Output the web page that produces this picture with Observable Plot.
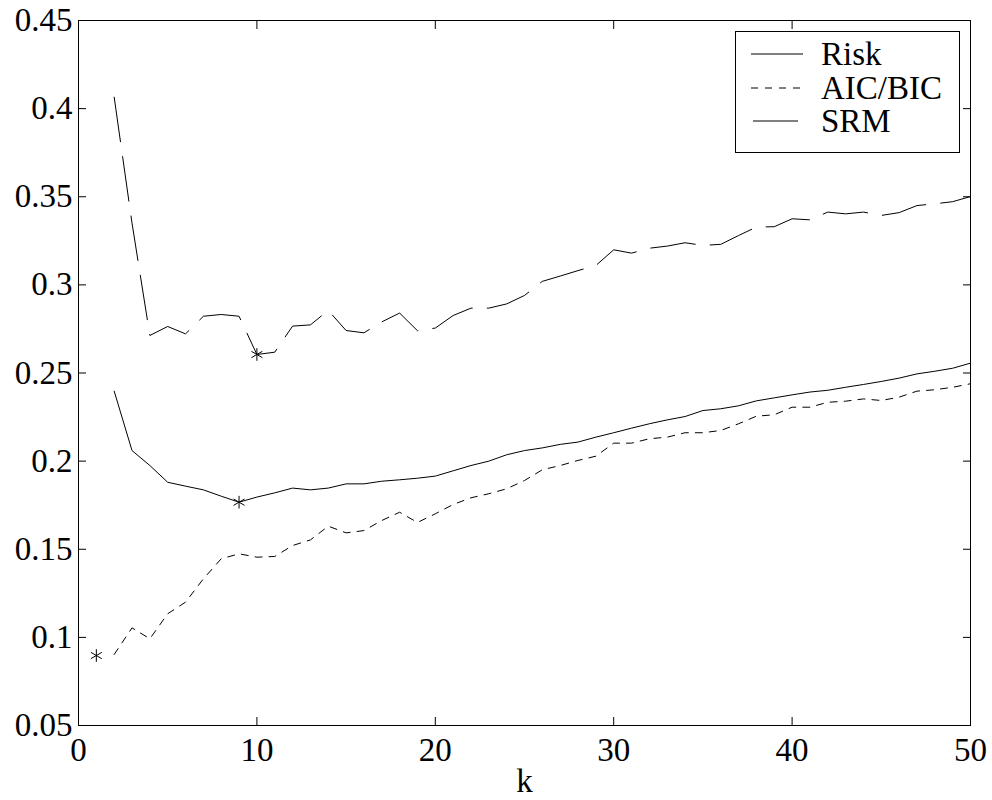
<!DOCTYPE html>
<html>
<head>
<meta charset="utf-8">
<script src="https://cdn.jsdelivr.net/npm/d3@7"></script>
<script src="https://cdn.jsdelivr.net/npm/@observablehq/plot@0.6"></script>
<style>
  body { margin: 0; background: #fff; }
  #wrap { position: relative; width: 992px; height: 800px; font-family: "Liberation Serif", "Times New Roman", serif; }
  #legend { position: absolute; left: 735px; top: 31px; width: 225px; height: 122px; border: 1px solid #000; background: #fff; box-sizing: border-box; }
</style>
</head>
<body>
<div id="wrap"><div id="legend"></div></div>
<script>
// ---- data ----
const kValues = [2,3,4,5,6,7,8,9,10,11,12,13,14,15,16,17,18,19,20,21,22,23,24,25,26,27,28,29,30,31,32,33,34,35,36,37,38,39,40,41,42,43,44,45,46,47,48,49,50];
const riskValues = [0.2397,0.2060,0.1975,0.1880,0.1858,0.1837,0.1801,0.1767,0.1796,0.1820,0.1847,0.1837,0.1847,0.1871,0.1871,0.1886,0.1894,0.1903,0.1915,0.1945,0.1975,0.2000,0.2036,0.2060,0.2075,0.2095,0.2108,0.2136,0.2161,0.2187,0.2212,0.2234,0.2253,0.2287,0.2297,0.2314,0.2342,0.2359,0.2376,0.2392,0.2402,0.2419,0.2435,0.2452,0.2471,0.2495,0.2510,0.2527,0.2556];
const aicBicValues = [0.0903,0.1054,0.0992,0.1134,0.1200,0.1332,0.1446,0.1474,0.1455,0.1459,0.1521,0.1553,0.1631,0.1593,0.1606,0.1663,0.1710,0.1652,0.1701,0.1754,0.1792,0.1815,0.1843,0.1890,0.1951,0.1975,0.2004,0.2028,0.2102,0.2102,0.2127,0.2136,0.2161,0.2161,0.2174,0.2212,0.2255,0.2263,0.2306,0.2306,0.2334,0.2340,0.2353,0.2344,0.2363,0.2397,0.2405,0.2419,0.2439];
const srmValues = [0.4065,0.3350,0.2713,0.2764,0.2722,0.2822,0.2832,0.2822,0.2605,0.2618,0.2766,0.2773,0.2855,0.2741,0.2728,0.2790,0.2840,0.2740,0.2755,0.2826,0.2868,0.2868,0.2892,0.2940,0.3020,0.3050,0.3081,0.3110,0.3199,0.3180,0.3208,0.3220,0.3239,0.3224,0.3230,0.3280,0.3328,0.3330,0.3375,0.3369,0.3413,0.3403,0.3413,0.3394,0.3410,0.3450,0.3460,0.3472,0.3501];
// selected minima (asterisks)
const starK = [1, 9, 10];
const starValues = [0.0897, 0.1767, 0.2605];
// axes
const xTicks = [0, 10, 20, 30, 40, 50];
const xTickLabels = ["0", "10", "20", "30", "40", "50"];
const yTicks = [0.05, 0.1, 0.15, 0.2, 0.25, 0.3, 0.35, 0.4, 0.45];
const yTickLabels = ["0.05", "0.1", "0.15", "0.2", "0.25", "0.3", "0.35", "0.4", "0.45"];
const xLabel = "k";
const seriesNames = ["Risk", "AIC/BIC", "SRM"];
const seriesDash = [null, "7,7", "45,15"];

const toRows = vals => kValues.map((k, i) => ({k, v: vals[i]}));
const riskRows = toRows(riskValues);
const aicRows = toRows(aicBicValues);
const srmRows = toRows(srmValues);
const starRows = starK.map((k, i) => ({k, v: starValues[i]}));

const font = "Liberation Serif";
const blank = () => "";

const chart = Plot.plot({
  width: 992,
  height: 800,
  marginLeft: 78,
  marginRight: 22,
  marginTop: 20,
  marginBottom: 75,
  style: {fontFamily: font, background: "#fff", color: "#000"},
  x: {domain: [0, 50]},
  y: {domain: [0.05, 0.45]},
  marks: [
    Plot.frame({stroke: "#000", strokeWidth: 1}),
    // inward ticks on all four sides
    Plot.axisX(xTicks, {anchor: "bottom", tickSize: -8, tickFormat: blank, label: null}),
    Plot.axisX(xTicks, {anchor: "top", tickSize: -8, tickFormat: blank, label: null}),
    Plot.axisY(yTicks, {anchor: "left", tickSize: -8, tickFormat: blank, label: null}),
    Plot.axisY(yTicks, {anchor: "right", tickSize: -8, tickFormat: blank, label: null}),
    // tick labels
    Plot.axisX(xTicks, {anchor: "bottom", tickSize: 0, tickPadding: 12, fontSize: 33, fontFamily: font,
      tickFormat: d => xTickLabels[xTicks.indexOf(d)], label: xLabel, labelAnchor: "center", labelArrow: "none", labelOffset: 66}),
    Plot.axisY(yTicks, {anchor: "left", tickSize: 0, tickPadding: 6, fontSize: 33, fontFamily: font,
      tickFormat: d => yTickLabels[yTicks.indexOf(d)], label: null}),
    // series
    Plot.line(srmRows, {x: "k", y: "v", stroke: "#000", strokeWidth: 1, strokeDasharray: seriesDash[2]}),
    Plot.line(riskRows, {x: "k", y: "v", stroke: "#000", strokeWidth: 1}),
    Plot.line(aicRows, {x: "k", y: "v", stroke: "#000", strokeWidth: 1, strokeDasharray: seriesDash[1]}),
    Plot.dot(starRows, {x: "k", y: "v", symbol: "asterisk", r: 6, stroke: "#000", strokeWidth: 1})
  ]
});
document.getElementById("wrap").prepend(chart);

// legend (inside the axes box, top-right)
const lg = d3.select("#legend").append("svg").attr("width", 223).attr("height", 120)
  .style("display", "block");
const rowY = [22, 56, 89];
seriesNames.forEach((name, i) => {
  lg.append("line").attr("x1", i === 2 ? 17 : 15).attr("x2", 67).attr("y1", rowY[i]).attr("y2", rowY[i])
    .attr("stroke", "#000").attr("stroke-width", 1)
    .attr("stroke-dasharray", seriesDash[i]);
  lg.append("text").attr("x", 85).attr("y", rowY[i]).attr("dominant-baseline", "central")
    .attr("font-family", font).attr("font-size", 33).attr("fill", "#000").text(name);
});
</script>
</body>
</html>
